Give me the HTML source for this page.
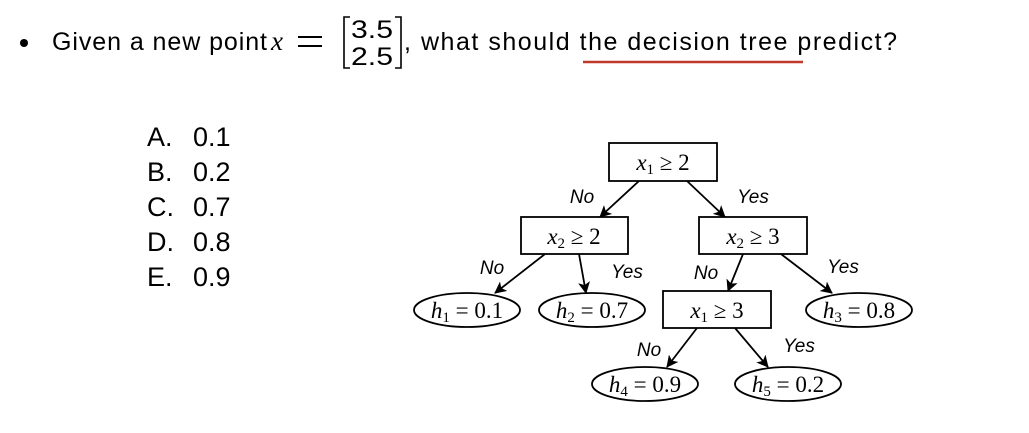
<!DOCTYPE html>
<html><head><meta charset="utf-8"><style>
html,body{margin:0;padding:0;background:#fff;}
svg{display:block}
.m{font-family:"Liberation Serif",serif;font-size:23px;}
.l{font-family:"Liberation Sans",sans-serif;font-style:italic;font-size:19px;}
.t{font-family:"Liberation Sans",sans-serif;font-size:25px;}
.a{font-family:"Liberation Sans",sans-serif;font-size:27px;}
</style></head><body>
<svg width="1029" height="433" viewBox="0 0 1029 433" xmlns="http://www.w3.org/2000/svg">
<defs><marker id="ar" markerWidth="12" markerHeight="12" refX="11" refY="6" orient="auto" markerUnits="userSpaceOnUse"><path d="M0,0 L12,6 L0,12 L3,6 z" fill="#000"/></marker></defs>
<circle cx="24" cy="43" r="4" fill="#000"/>
<text class="t" x="52" y="50" textLength="215" lengthAdjust="spacing">Given a new point</text>
<text x="271" y="50" font-family="Liberation Serif" font-style="italic" font-size="27">x</text>
<line x1="298" y1="37" x2="322" y2="37" stroke="#000" stroke-width="2"/>
<line x1="298" y1="46" x2="322" y2="46" stroke="#000" stroke-width="2"/>
<path d="M350,17 L344,17 L344,68 L350,68" fill="none" stroke="#000" stroke-width="1.6"/>
<path d="M395,17 L401,17 L401,68 L395,68" fill="none" stroke="#000" stroke-width="1.6"/>
<text class="t" x="351" y="38" textLength="42" lengthAdjust="spacingAndGlyphs">3.5</text>
<text class="t" x="351" y="65" textLength="42" lengthAdjust="spacingAndGlyphs">2.5</text>
<text class="t" x="404" y="50" textLength="493" lengthAdjust="spacing">, what should the decision tree predict?</text>
<line x1="583" y1="62" x2="803" y2="62" stroke="#c0392b" stroke-width="2.5"/>
<g class="a">
<text x="147" y="146">A.</text><text x="193" y="146">0.1</text>
<text x="147" y="181">B.</text><text x="193" y="181">0.2</text>
<text x="147" y="216">C.</text><text x="193" y="216">0.7</text>
<text x="147" y="251">D.</text><text x="193" y="251">0.8</text>
<text x="147" y="286">E.</text><text x="193" y="286">0.9</text>
</g>
<g fill="none" stroke="#000" stroke-width="1.8">
<rect x="609" y="143" width="108" height="38"/>
<rect x="521" y="217" width="107" height="37"/>
<rect x="699" y="217" width="108" height="37"/>
<rect x="663" y="291" width="108" height="37"/>
<ellipse cx="467" cy="310" rx="53" ry="17"/>
<ellipse cx="592" cy="310" rx="53" ry="17"/>
<ellipse cx="859" cy="310" rx="53" ry="17"/>
<ellipse cx="645" cy="384" rx="53" ry="17"/>
<ellipse cx="788" cy="384" rx="53" ry="17"/>
</g>
<g stroke="#000" stroke-width="1.8" marker-end="url(#ar)">
<line x1="639" y1="181" x2="600" y2="217"/>
<line x1="687" y1="181" x2="725" y2="217"/>
<line x1="545" y1="254" x2="495" y2="293"/>
<line x1="579" y1="254" x2="586" y2="293"/>
<line x1="743" y1="254" x2="728" y2="291"/>
<line x1="781" y1="254" x2="832" y2="293"/>
<line x1="697" y1="328" x2="667" y2="367"/>
<line x1="735" y1="328" x2="768" y2="367"/>
</g>
<g class="m" text-anchor="middle">
<text x="663" y="170"><tspan font-style="italic">x</tspan><tspan font-size="15" dy="4">1</tspan><tspan dy="-4"> ≥ 2</tspan></text>
<text x="574" y="244"><tspan font-style="italic">x</tspan><tspan font-size="15" dy="4">2</tspan><tspan dy="-4"> ≥ 2</tspan></text>
<text x="753" y="244"><tspan font-style="italic">x</tspan><tspan font-size="15" dy="4">2</tspan><tspan dy="-4"> ≥ 3</tspan></text>
<text x="717" y="318"><tspan font-style="italic">x</tspan><tspan font-size="15" dy="4">1</tspan><tspan dy="-4"> ≥ 3</tspan></text>
<text x="467" y="318"><tspan font-style="italic">h</tspan><tspan font-size="15" dy="4">1</tspan><tspan dy="-4"> = 0.1</tspan></text>
<text x="592" y="318"><tspan font-style="italic">h</tspan><tspan font-size="15" dy="4">2</tspan><tspan dy="-4"> = 0.7</tspan></text>
<text x="859" y="318"><tspan font-style="italic">h</tspan><tspan font-size="15" dy="4">3</tspan><tspan dy="-4"> = 0.8</tspan></text>
<text x="645" y="392"><tspan font-style="italic">h</tspan><tspan font-size="15" dy="4">4</tspan><tspan dy="-4"> = 0.9</tspan></text>
<text x="788" y="392"><tspan font-style="italic">h</tspan><tspan font-size="15" dy="4">5</tspan><tspan dy="-4"> = 0.2</tspan></text>
</g>
<g class="l" text-anchor="middle">
<text x="582" y="203">No</text>
<text x="753" y="203">Yes</text>
<text x="492" y="274">No</text>
<text x="627" y="278">Yes</text>
<text x="706" y="279">No</text>
<text x="843" y="273">Yes</text>
<text x="649" y="356">No</text>
<text x="799" y="352">Yes</text>
</g>
</svg>
</body></html>
